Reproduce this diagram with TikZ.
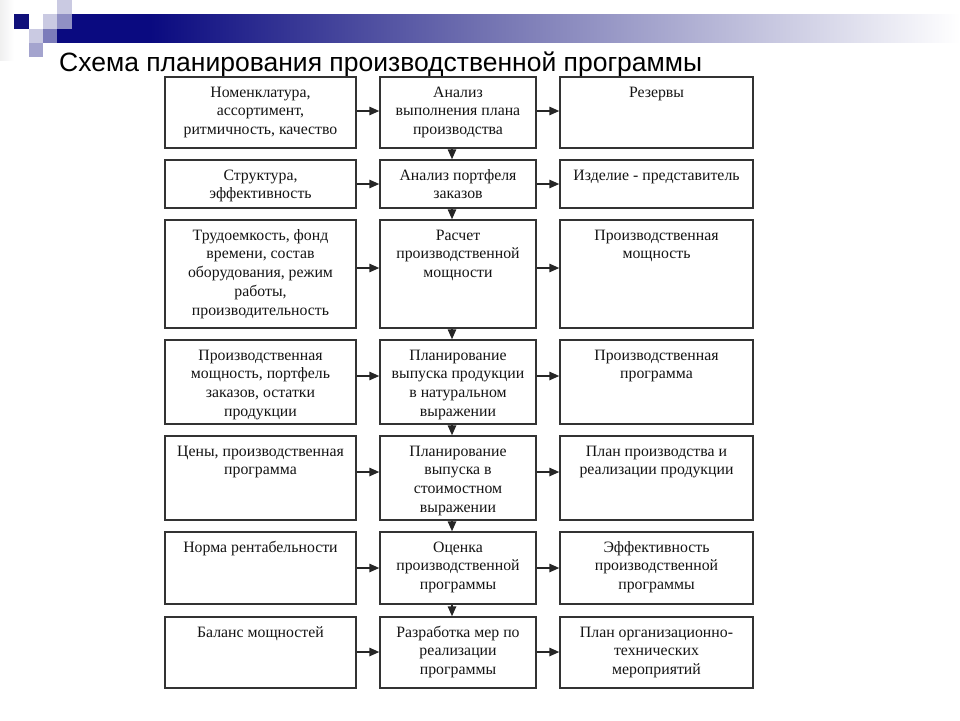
\documentclass[tikz,border=0pt]{standalone}
\usepackage{fontspec}
\setmainfont{Liberation Serif}
\newfontfamily\titlefont{Liberation Sans}
\usetikzlibrary{arrows.meta,fit}
\definecolor{navy}{HTML}{0A0A80}
\definecolor{midbar}{HTML}{7474B2}
\definecolor{sqdark}{HTML}{10107A}
\definecolor{sqlight}{HTML}{CACAE2}
\definecolor{sqmid}{HTML}{9090C4}
\definecolor{sqmed}{HTML}{A4A4CE}
\begin{document}
\begin{tikzpicture}[x=1pt,y=-1pt,
  boxst/.style={draw=black!80, line width=1.5pt, inner sep=0pt, fill=white},
  txt/.style={anchor=north, align=center, inner sep=0pt,
    font=\fontsize{15.8}{18.8}\selectfont, text=black!92},
  arr/.style={draw=black!85, line width=1.5pt, -{Triangle[length=10pt,width=8.5pt]}}]
\useasboundingbox (0,0) rectangle (960,720);
\fill[white] (0,0) rectangle (960,720);
% header decoration
\shade[left color=blue!4!black!6, right color=white] (0,0) rectangle (14,60);
\fill[navy] (57.2,14.3) rectangle (151,42.9);
\shade[left color=navy, right color=midbar] (150,14.3) rectangle (491,42.9);
\shade[left color=midbar, right color=white] (490,14.3) rectangle (960,42.9);
\fill[sqdark] (14.3,14.3) rectangle (28.6,28.6);
\fill[sqlight] (42.9,14.3) rectangle (57.2,28.6);
\fill[sqlight] (57.2,0) rectangle (71.5,14.3);
\fill[sqmid] (57.2,14.3) rectangle (71.5,28.6);
\fill[sqlight] (28.6,28.6) rectangle (42.9,42.9);
\fill[sqmid!85!navy] (42.9,28.6) rectangle (57.2,42.9);
\fill[sqmed] (28.6,42.9) rectangle (42.9,57.2);
% title
\node[anchor=base west, inner sep=0pt, font=\titlefont\fontsize{26.5}{30}\selectfont, text=black] (title) at (59,71) {Схема планирования производственной программы};
% boxes: left column
\node[boxst, fit={(165,77)(356,148)}] (l1) {};
\node[boxst, fit={(165,160)(356,208)}] (l2) {};
\node[boxst, fit={(165,220)(356,328)}] (l3) {};
\node[boxst, fit={(165,340)(356,424)}] (l4) {};
\node[boxst, fit={(165,436)(356,520)}] (l5) {};
\node[boxst, fit={(165,532)(356,604)}] (l6) {};
\node[boxst, fit={(165,617)(356,688)}] (l7) {};
% middle column
\node[boxst, fit={(380,77)(536,148)}] (m1) {};
\node[boxst, fit={(380,160)(536,208)}] (m2) {};
\node[boxst, fit={(380,220)(536,328)}] (m3) {};
\node[boxst, fit={(380,340)(536,424)}] (m4) {};
\node[boxst, fit={(380,436)(536,520)}] (m5) {};
\node[boxst, fit={(380,532)(536,604)}] (m6) {};
\node[boxst, fit={(380,617)(536,688)}] (m7) {};
% right column
\node[boxst, fit={(560,77)(753,148)}] (r1) {};
\node[boxst, fit={(560,160)(753,208)}] (r2) {};
\node[boxst, fit={(560,220)(753,328)}] (r3) {};
\node[boxst, fit={(560,340)(753,424)}] (r4) {};
\node[boxst, fit={(560,436)(753,520)}] (r5) {};
\node[boxst, fit={(560,532)(753,604)}] (r6) {};
\node[boxst, fit={(560,617)(753,688)}] (r7) {};
% texts left
\node[txt] (tl1) at ([yshift=-7.5pt]l1.north) {\strut Номенклатура,\\ассортимент,\\ритмичность, качество};
\node[txt] (tl2) at ([yshift=-7.5pt]l2.north) {\strut Структура,\\эффективность};
\node[txt] (tl3) at ([yshift=-7.5pt]l3.north) {\strut Трудоемкость, фонд\\времени, состав\\оборудования, режим\\работы,\\производительность};
\node[txt] (tl4) at ([yshift=-7.5pt]l4.north) {\strut Производственная\\мощность, портфель\\заказов, остатки\\продукции};
\node[txt] (tl5) at ([yshift=-7.5pt]l5.north) {\strut Цены, производственная\\программа};
\node[txt] (tl6) at ([yshift=-7.5pt]l6.north) {\strut Норма рентабельности};
\node[txt] (tl7) at ([yshift=-7.5pt]l7.north) {\strut Баланс мощностей};
% texts middle
\node[txt] (tm1) at ([yshift=-7.5pt]m1.north) {\strut Анализ\\выполнения плана\\производства};
\node[txt] (tm2) at ([yshift=-7.5pt]m2.north) {\strut Анализ портфеля\\заказов};
\node[txt] (tm3) at ([yshift=-7.5pt]m3.north) {\strut Расчет\\производственной\\мощности};
\node[txt] (tm4) at ([yshift=-7.5pt]m4.north) {\strut Планирование\\выпуска продукции\\в натуральном\\выражении};
\node[txt] (tm5) at ([yshift=-7.5pt]m5.north) {\strut Планирование\\выпуска в\\стоимостном\\выражении};
\node[txt] (tm6) at ([yshift=-7.5pt]m6.north) {\strut Оценка\\производственной\\программы};
\node[txt] (tm7) at ([yshift=-7.5pt]m7.north) {\strut Разработка мер по\\реализации\\программы};
% texts right
\node[txt] (tr1) at ([yshift=-7.5pt]r1.north) {\strut Резервы};
\node[txt] (tr2) at ([yshift=-7.5pt]r2.north) {\strut Изделие - представитель};
\node[txt] (tr3) at ([yshift=-7.5pt]r3.north) {\strut Производственная\\мощность};
\node[txt] (tr4) at ([yshift=-7.5pt]r4.north) {\strut Производственная\\программа};
\node[txt] (tr5) at ([yshift=-7.5pt]r5.north) {\strut План производства и\\реализации продукции};
\node[txt] (tr6) at ([yshift=-7.5pt]r6.north) {\strut Эффективность\\производственной\\программы};
\node[txt] (tr7) at ([yshift=-7.5pt]r7.north) {\strut План организационно-\\технических\\мероприятий};
% horizontal arrows
\foreach \i/\s in {1/1.5,2/0,3/6,4/6,5/6,6/0,7/0.5}{
  \draw[arr] ([yshift=\s pt]l\i.east) -- ([yshift=\s pt]m\i.west);
  \draw[arr] ([yshift=\s pt]m\i.east) -- ([yshift=\s pt]r\i.west);
}
% vertical arrows
\foreach \i/\j in {1/2,2/3,3/4,4/5,5/6,6/7}{
  \draw[arr] ([xshift=-6pt]m\i.south) -- ([xshift=-6pt]m\j.north);
}
\end{tikzpicture}
\end{document}
